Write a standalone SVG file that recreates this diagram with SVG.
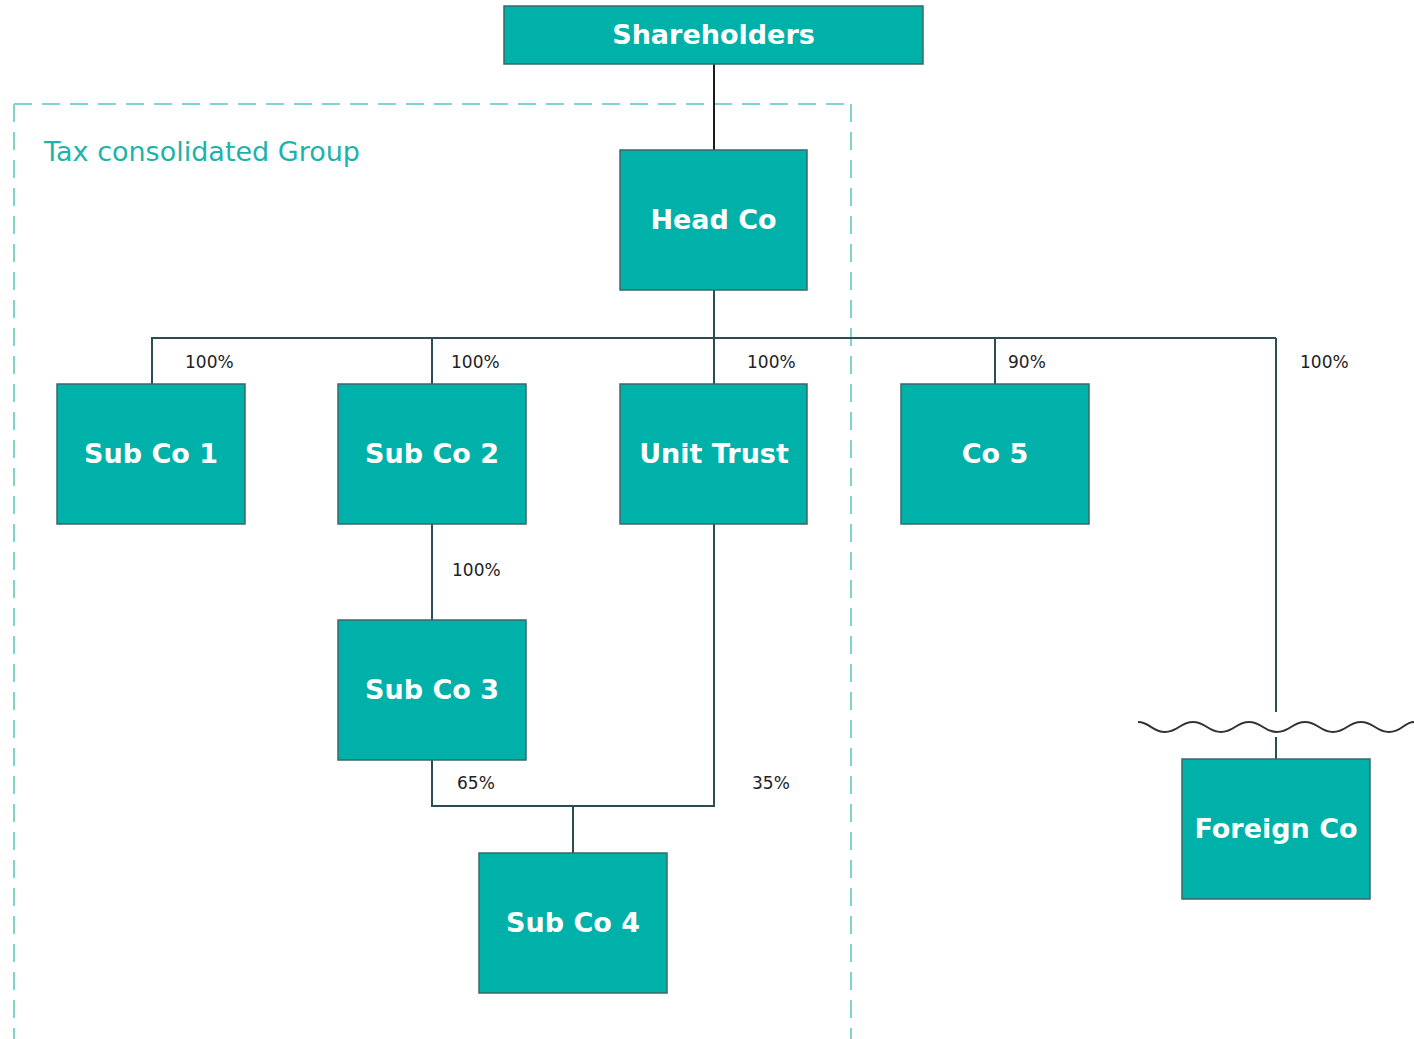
<svg xmlns="http://www.w3.org/2000/svg" width="1414" height="1039" viewBox="0 0 1414 1039">
  <style>
    .box { fill: #00B1A9; stroke: #3a6868; stroke-width: 1.5; }
    .name { font-family: "DejaVu Sans", Verdana, sans-serif; font-weight: bold; font-size: 27px; fill: #ffffff; text-anchor: middle; }
    .pct { font-family: "DejaVu Sans", Verdana, sans-serif; font-size: 17px; fill: #222222; }
    .link { fill: none; stroke: #2d4d55; stroke-width: 2; }
    .group { fill: none; stroke: #7dd5ce; stroke-width: 2; stroke-dasharray: 18 10; }
    .grouplabel { font-family: "DejaVu Sans", Verdana, sans-serif; font-size: 27px; fill: #1db3aa; }
  </style>

  <rect width="1414" height="1039" fill="#ffffff"/>

  <!-- tax consolidated group boundary, open at the bottom -->
  <g id="tax-group">
    <line class="group" x1="14" y1="104" x2="851" y2="104"/>
    <line class="group" x1="14" y1="104" x2="14" y2="1045"/>
    <line class="group" x1="851" y1="104" x2="851" y2="1045"/>
    <text class="grouplabel" x="44" y="161">Tax consolidated Group</text>
  </g>

  <!-- ownership connectors -->
  <g id="connectors">
    <line x1="714" y1="64" x2="714" y2="150" stroke="#1c1c1c" stroke-width="2"/>
    <line class="link" x1="714" y1="290" x2="714" y2="338"/>
    <path class="link" d="M152,384 V338 H1276"/>
    <line class="link" x1="432" y1="338" x2="432" y2="384"/>
    <line class="link" x1="714" y1="338" x2="714" y2="384"/>
    <line class="link" x1="995" y1="338" x2="995" y2="384"/>
    <line class="link" x1="1276" y1="338" x2="1276" y2="712"/>
    <line class="link" x1="1276" y1="737" x2="1276" y2="759"/>
    <line class="link" x1="432" y1="524" x2="432" y2="620"/>
    <path class="link" d="M432,760 V806 H714 V524"/>
    <line class="link" x1="573" y1="806" x2="573" y2="853"/>
    <!-- jurisdiction boundary -->
    <path fill="none" stroke="#333333" stroke-width="2" d="M1138,722 C1150,722 1152,732 1165,732 S1180,722 1193,722 S1208,732 1221,732 S1236,722 1249,722 S1264,732 1277,732 S1292,722 1305,722 S1320,732 1333,732 S1348,722 1361,722 S1376,732 1389,732 S1404,722 1414,722"/>
  </g>

  <!-- ownership percentages -->
  <g id="percentages">
    <text class="pct" x="185" y="368">100%</text>
    <text class="pct" x="451" y="368">100%</text>
    <text class="pct" x="747" y="368">100%</text>
    <text class="pct" x="1008" y="368">90%</text>
    <text class="pct" x="1300" y="368">100%</text>
    <text class="pct" x="452" y="576">100%</text>
    <text class="pct" x="457" y="789">65%</text>
    <text class="pct" x="752" y="789">35%</text>
  </g>

  <g id="shareholders">
    <rect class="box" x="504" y="6" width="419" height="58"/>
    <text class="name" x="713.5" y="44">Shareholders</text>
  </g>
  <g id="head-co">
    <rect class="box" x="620" y="150" width="187" height="140"/>
    <text class="name" x="713.5" y="229">Head Co</text>
  </g>
  <g id="sub-co-1">
    <rect class="box" x="57" y="384" width="188" height="140"/>
    <text class="name" x="151" y="463">Sub Co 1</text>
  </g>
  <g id="sub-co-2">
    <rect class="box" x="338" y="384" width="188" height="140"/>
    <text class="name" x="432" y="463">Sub Co 2</text>
  </g>
  <g id="unit-trust">
    <rect class="box" x="620" y="384" width="187" height="140"/>
    <text class="name" x="714" y="463">Unit Trust</text>
  </g>
  <g id="co-5">
    <rect class="box" x="901" y="384" width="188" height="140"/>
    <text class="name" x="995" y="463">Co 5</text>
  </g>
  <g id="sub-co-3">
    <rect class="box" x="338" y="620" width="188" height="140"/>
    <text class="name" x="432" y="699">Sub Co 3</text>
  </g>
  <g id="sub-co-4">
    <rect class="box" x="479" y="853" width="188" height="140"/>
    <text class="name" x="573" y="932">Sub Co 4</text>
  </g>
  <g id="foreign-co">
    <rect class="box" x="1182" y="759" width="188" height="140"/>
    <text class="name" x="1276" y="838">Foreign Co</text>
  </g>
</svg>
